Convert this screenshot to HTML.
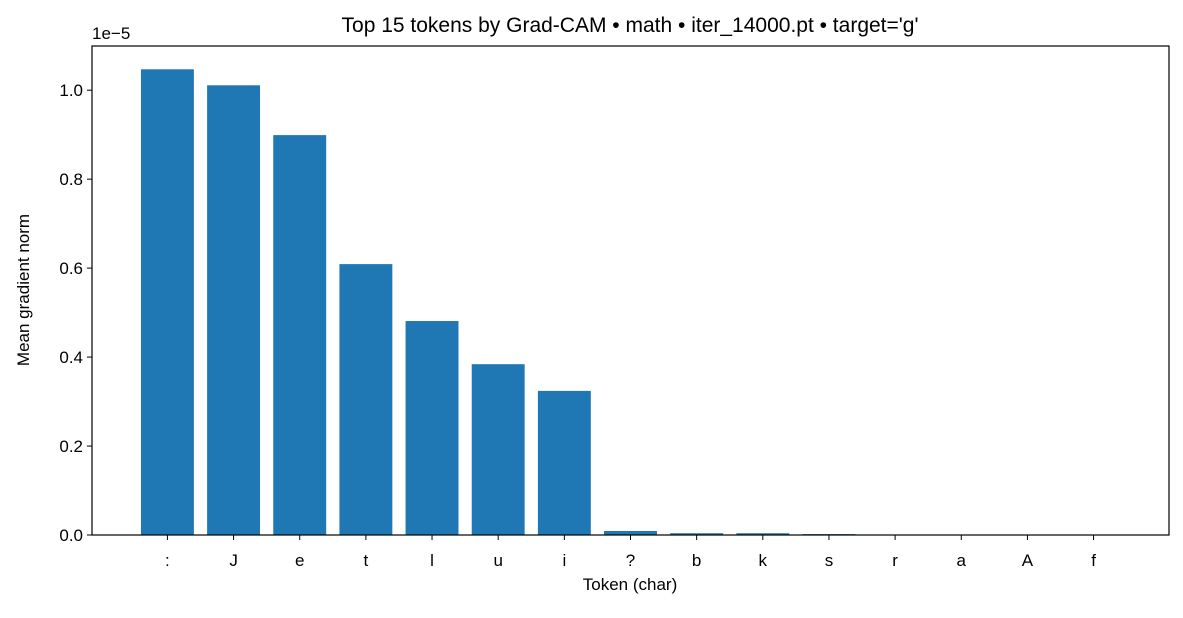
<!DOCTYPE html>
<html><head><meta charset="utf-8"><style>
html,body{margin:0;padding:0;background:#fff;}
svg text{font-family:"Liberation Sans","DejaVu Sans",sans-serif;fill:#000;}
</style></head><body>
<svg id="chart" width="1183" height="613" xmlns="http://www.w3.org/2000/svg">
<rect width="1183" height="613" fill="#fff"/>
<g id="bars"></g>
<g id="axes"></g>
<text x="630" y="32" font-size="21" text-anchor="middle">Top 15 tokens by Grad-CAM • math • iter_14000.pt • target='g'</text>
<text x="630" y="590" font-size="17" text-anchor="middle">Token (char)</text>
<text transform="translate(29,290) rotate(-90)" font-size="17" text-anchor="middle">Mean gradient norm</text>
<text x="92" y="39" font-size="17">1e−5</text>
</svg>
<script>
const categories = [":", "J", "e", "t", "l", "u", "i", "?", "b", "k", "s", "r", "a", "A", "f"];
const values = [1.047, 1.011, 0.899, 0.609, 0.481, 0.384, 0.324, 0.009, 0.004, 0.004, 0.002, 0.001, 0.001, 0.001, 0.001];
const yTicks = [0, 0.2, 0.4, 0.6, 0.8, 1.0];
const yTickLabels = ["0.0", "0.2", "0.4", "0.6", "0.8", "1.0"];

const NS = "http://www.w3.org/2000/svg";
const L = 92, R = 1169, T = 46, B = 535;
const barW = 0.8;
const xMin = -0.4 - 0.05 * (categories.length - 1 + barW);
const xMax = categories.length - 1 + 0.4 + 0.05 * (categories.length - 1 + barW);
const yMax = Math.max(...values) * 1.05;
const xs = v => L + (v - xMin) / (xMax - xMin) * (R - L);
const ys = v => B - v / yMax * (B - T);

const bars = document.getElementById("bars");
const axes = document.getElementById("axes");
function mk(tag, attrs, parent) {
  const e = document.createElementNS(NS, tag);
  for (const k in attrs) e.setAttribute(k, attrs[k]);
  parent.appendChild(e);
  return e;
}
categories.forEach((c, i) => {
  const x0 = xs(i - barW / 2), x1 = xs(i + barW / 2);
  const r = mk("rect", {x: x0, y: ys(values[i]), width: x1 - x0, height: B - ys(values[i]), fill: "#1f77b4"}, bars);
  
  
  const tk = mk("line", {x1: xs(i), x2: xs(i), y1: B, y2: B + 5, stroke: "#000", "stroke-width": 1}, axes);
  
  
  const t = mk("text", {x: xs(i), y: B + 31, "font-size": 17, "text-anchor": "middle"}, axes);
  t.textContent = c;
  
  
});
yTicks.forEach((v, i) => {
  const y = ys(v);
  const tk = mk("line", {x1: L - 5, x2: L, y1: y, y2: y, stroke: "#000", "stroke-width": 1}, axes);
  
  
  const t = mk("text", {x: L - 9, y: y + 6, "font-size": 17, "text-anchor": "end"}, axes);
  t.textContent = yTickLabels[i];
  
  
});
const frame = mk("rect", {x: L, y: T, width: R - L, height: B - T, fill: "none", stroke: "#000", "stroke-width": 1.2}, axes);


</script>
</body></html>
